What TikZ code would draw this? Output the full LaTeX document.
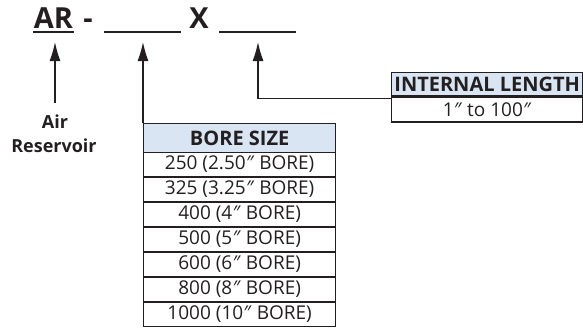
\documentclass[tikz,border=0pt]{standalone}
\usepackage{fontspec}
\setmainfont{Open Sans}
\usetikzlibrary{arrows.meta}
\definecolor{ink}{RGB}{35,31,32}
\definecolor{hdrfill}{RGB}{218,229,243}
\newcommand{\dpr}{{\itshape ″\/}}
\begin{document}
\begin{tikzpicture}[x=1pt,y=-1pt,
  codetxt/.style={anchor=base,inner sep=0pt,text=ink,font=\fontsize{29}{29}\selectfont\bfseries},
  lbl/.style={anchor=base,inner sep=0pt,text=ink,font=\fontsize{18}{18}\selectfont\bfseries},
  cell/.style={draw=ink,text=ink,line width=1.3pt,anchor=north west,inner sep=0pt,
    minimum width=192pt,minimum height=23.7pt,font=\fontsize{19}{19}\selectfont},
  hcell/.style={cell,fill=hdrfill,font=\fontsize{20}{20}\selectfont\bfseries},
  lcell/.style={cell,minimum width=191pt},
  arr/.style={draw=ink,line width=1.3pt,-{Latex[length=19pt,width=11pt]}},
  blank/.style={draw=ink,line width=1.8pt}]
\useasboundingbox (0,0) rectangle (583,335);
% code line
\node[codetxt] (ar) at (53.5,28) {AR};
\node[codetxt] (dash) at (88,28) {-};
\node[codetxt] (x) at (199,28) {X};
\draw[blank] (33,32) -- (74,32);
\draw[blank] (104,32) -- (181,32);
\draw[blank] (219,32) -- (296,32);
\coordinate (tip1) at (55,42);
\coordinate (tip2) at (143,42);
\coordinate (tip3) at (258,42);
% air reservoir
\node[lbl] (air) at (55,128) {Air};
\node[lbl] (res) at (54,152) {Reservoir};
\coordinate (a1s) at (55,103);
\draw[arr] (a1s) -- (tip1);
% bore size table
\node[hcell,minimum height=29pt] (bh) at (143,123) {BORE SIZE};
\node[cell] (b1) at (143,152) {250 (2.50\dpr{} BORE)};
\node[cell] (b2) at (b1.south west) {325 (3.25\dpr{} BORE)};
\node[cell] (b3) at (b2.south west) {400 (4\dpr{} BORE)};
\node[cell] (b4) at (b3.south west) {500 (5\dpr{} BORE)};
\node[cell] (b5) at (b4.south west) {600 (6\dpr{} BORE)};
\node[cell] (b6) at (b5.south west) {800 (8\dpr{} BORE)};
\node[cell] (b7) at (b6.south west) {1000 (10\dpr{} BORE)};
\draw[arr] (bh.north west) -- (tip2);
% internal length table
\node[hcell,minimum width=191pt,minimum height=23pt] (lh) at (391,72) {INTERNAL LENGTH};
\node[lcell,minimum height=25pt] (l1) at (lh.south west) {1\dpr{} to 100\dpr};
\draw[arr] ([yshift=-2pt]lh.south west) -| (tip3);
\end{tikzpicture}
\end{document}
